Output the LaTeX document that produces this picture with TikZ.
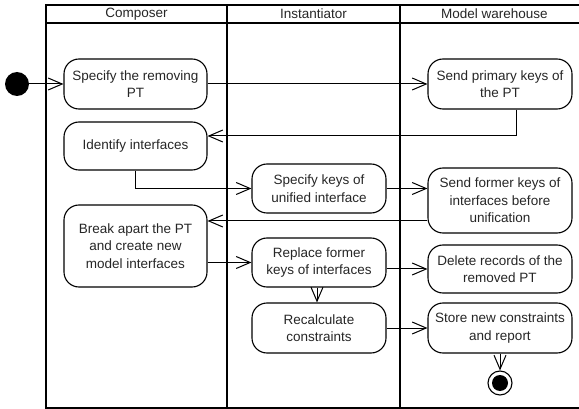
\documentclass[tikz,border=0pt]{standalone}
\usepackage{fontspec}
\setmainfont{Liberation Sans}
\usetikzlibrary{arrows.meta,calc}
\begin{document}
\begin{tikzpicture}[x=1pt,y=-1pt,
  txt/.style={font=\fontsize{13.5}{17.5}\selectfont, text=black!85},
  act/.style={txt, draw, line width=1.1pt, rounded corners=15pt, align=center, inner sep=0pt},
  arr/.style={line width=1pt, -{Straight Barb[length=14pt,width=12pt,line width=1pt]}},
  lane/.style={line width=2pt}]
\useasboundingbox (0,0) rectangle (579,409);
% frame and lanes
\draw[lane] (46,5) rectangle (589,407.5);
\draw[lane] (46,23) -- (589,23);
\draw[lane] (227,5) -- (227,407.5);
\draw[lane] (400,5) -- (400,407.5);
\node[txt] (h1) at (136.5,14) {Composer};
\node[txt] (h2) at (313.5,14) {Instantiator};
\node[txt] (h3) at (494.5,14) {Model warehouse};
% activities
\node[act, minimum width=143pt, minimum height=50pt] (s1) at (135.5,84) {Specify the removing\\PT};
\node[act, minimum width=143pt, minimum height=48pt] (s2) at (135.5,146) {Identify interfaces};
\node[act, minimum width=143pt, minimum height=82pt] (s3) at (135.5,246) {Break apart the PT\\and create new\\model interfaces};
\node[act, minimum width=134pt, minimum height=49pt] (i1) at (319,188.5) {Specify keys of\\unified interface};
\node[act, minimum width=134pt, minimum height=49pt] (i2) at (319,262.5) {Replace former\\keys of interfaces};
\node[act, minimum width=134pt, minimum height=50pt] (i3) at (319,328) {Recalculate\\constraints};
\node[act, minimum width=144pt, minimum height=50pt] (m1) at (500,84) {Send primary keys of\\the PT};
\node[act, minimum width=144pt, minimum height=65pt] (m2) at (500,200.5) {Send former keys of\\interfaces before\\unification};
\node[act, minimum width=144pt, minimum height=48pt] (m3) at (500,269) {Delete records of the\\removed PT};
\node[act, minimum width=144pt, minimum height=50pt] (m4) at (500,328) {Store new constraints\\and report};
% start / end
\node[circle, fill=black, minimum size=24pt, inner sep=0pt] (start) at (17,84) {};
\node[circle, draw, line width=1.1pt, minimum size=24pt, inner sep=0pt] (end) at (500,383) {};
\node[circle, fill=black, minimum size=16pt, inner sep=0pt] (endin) at (end.center) {};
% flows
\draw[arr] (start) -- (s1.west);
\draw[arr] (s1.east) -- (m1.west);
\draw[arr] (m1.south -| 516,0) |- (s2.east |- 0,136);
\draw[arr] (s2.south) |- (i1.west);
\draw[arr] (i1.east) -- (i1.east -| m2.west);
\draw[arr] (m2.west |- 0,221) -- (s3.east |- 0,221);
\draw[arr] (s3.east |- i2.west) -- (i2.west);
\draw[arr] (i2.east |- m3.west) -- (m3.west);
\draw[arr] (i2.south -| 317,0) -- (i3.north -| 317,0);
\draw[arr] (i3.east) -- (m4.west);
\draw[arr] (m4.south) -- (end.north);
\end{tikzpicture}
\end{document}
